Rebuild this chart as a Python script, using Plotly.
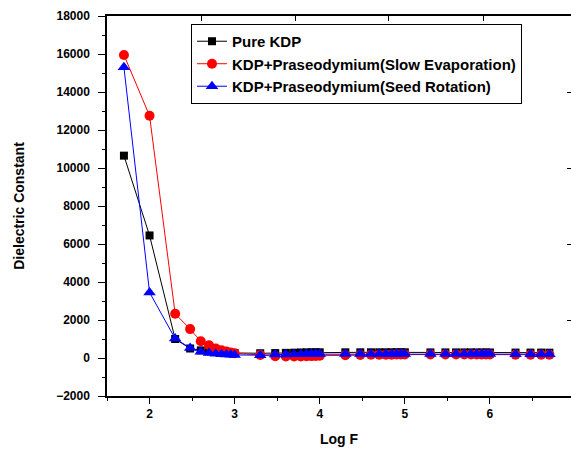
import plotly.graph_objects as go

log_f = [1.699, 2.0, 2.301, 2.477, 2.602, 2.699, 2.778, 2.845, 2.903, 2.954, 3.0,
         3.301, 3.477, 3.602, 3.699, 3.778, 3.845, 3.903, 3.954, 4.0,
         4.301, 4.477, 4.602, 4.699, 4.778, 4.845, 4.903, 4.954, 5.0,
         5.301, 5.477, 5.602, 5.699, 5.778, 5.845, 5.903, 5.954, 6.0,
         6.301, 6.477, 6.602, 6.699]

pure_kdp = [10650, 6450, 1000, 500, 400, 350, 320, 300, 285, 275, 265,
            250, 260, 270, 280, 290, 295, 300, 300, 300,
            300, 300, 300, 300, 300, 300, 300, 300, 300,
            295, 295, 295, 295, 295, 290, 290, 290, 290,
            285, 285, 285, 280]

slow_evap = [15950, 12750, 2330, 1520, 880, 670, 500, 410, 340, 290, 250,
             160, 90, 80, 80, 80, 90, 100, 110, 120,
             150, 160, 170, 170, 175, 175, 180, 180, 180,
             180, 180, 180, 180, 180, 180, 180, 180, 180,
             175, 175, 175, 175]

seed_rot = [15300, 3450, 1020, 530, 330, 260, 220, 200, 185, 170, 160,
            150, 190, 190, 200, 200, 205, 205, 210, 210,
            210, 210, 210, 210, 210, 210, 210, 210, 210,
            210, 205, 205, 205, 205, 205, 205, 205, 205,
            200, 200, 200, 200]

names = ["Pure KDP", "KDP+Praseodymium(Slow Evaporation)", "KDP+Praseodymium(Seed Rotation)"]

y_ticks = [-2000, 0, 2000, 4000, 6000, 8000, 10000, 12000, 14000, 16000, 18000]
x_ticks = [2, 3, 4, 5, 6]
top_ticks = [2.605, 3.71, 4.81, 5.92]
right_ticks = [2000, 6000, 10000, 14000]

FONT = "Liberation Sans, Arial, sans-serif"
X_RANGE = [1.5, 6.953]
Y_RANGE = [-2000, 18000]

fig = go.Figure()
fig.add_trace(go.Scatter(x=log_f, y=pure_kdp, name=names[0], mode="lines+markers",
                         line=dict(color="black", width=1),
                         marker=dict(symbol="square", size=8, color="black")))
fig.add_trace(go.Scatter(x=log_f, y=slow_evap, name=names[1], mode="lines+markers",
                         line=dict(color="red", width=1),
                         marker=dict(symbol="circle", size=10, color="red")))
fig.add_trace(go.Scatter(x=log_f, y=seed_rot, name=names[2], mode="lines+markers",
                         line=dict(color="blue", width=1),
                         marker=dict(symbol="triangle-up", size=11, color="blue")))
# helper trace so the mirror (top/right) tick axes are drawn
fig.add_trace(go.Scatter(x=[], y=[], xaxis="x2", yaxis="y2", showlegend=False, hoverinfo="skip"))

fig.update_layout(
    width=571, height=453,
    margin=dict(l=107, r=0, t=16, b=57),
    paper_bgcolor="white", plot_bgcolor="white",
    font=dict(family=FONT, color="black"),
    showlegend=True,
    legend=dict(x=0.181, y=0.979, xanchor="left", yanchor="top",
                bgcolor="white", bordercolor="black", borderwidth=1,
                font=dict(family=FONT, size=15, color="black", weight="bold"),
                tracegroupgap=0, itemwidth=30),
    xaxis=dict(range=X_RANGE, tickvals=x_ticks,
               ticks="outside", ticklen=6, tickwidth=1, tickcolor="black",
               showline=True, linecolor="black", linewidth=1.5,
               showgrid=False, zeroline=False,
               tickfont=dict(family=FONT, size=12, weight="bold"),
               minor=dict(dtick=0.5, tick0=1.5, ticks="outside", ticklen=3, tickcolor="black"),
               title=dict(text="Log F", font=dict(family=FONT, size=14, weight="bold"), standoff=14)),
    yaxis=dict(range=Y_RANGE, tickvals=y_ticks, tickformat="d",
               ticks="outside", ticklen=7, tickwidth=1, tickcolor="black",
               showline=True, linecolor="black", linewidth=1.5,
               showgrid=False, zeroline=False,
               tickfont=dict(family=FONT, size=12, weight="bold"),
               ticklabelstandoff=6,
               minor=dict(dtick=1000, tick0=-2000, ticks="outside", ticklen=3, tickcolor="black"),
               title=dict(text="Dielectric Constant", font=dict(family=FONT, size=14, weight="bold"), standoff=28)),
    xaxis2=dict(overlaying="x", side="top", anchor="y2", range=X_RANGE, tickvals=top_ticks,
                ticks="inside", ticklen=5, tickcolor="black", showticklabels=False,
                showline=True, linecolor="black", linewidth=1.5,
                showgrid=False, zeroline=False),
    yaxis2=dict(overlaying="y", side="right", anchor="x2", range=Y_RANGE, tickvals=right_ticks,
                ticks="inside", ticklen=4, tickcolor="black", showticklabels=False,
                showline=False, showgrid=False, zeroline=False),
)

fig.write_html("out.html")
